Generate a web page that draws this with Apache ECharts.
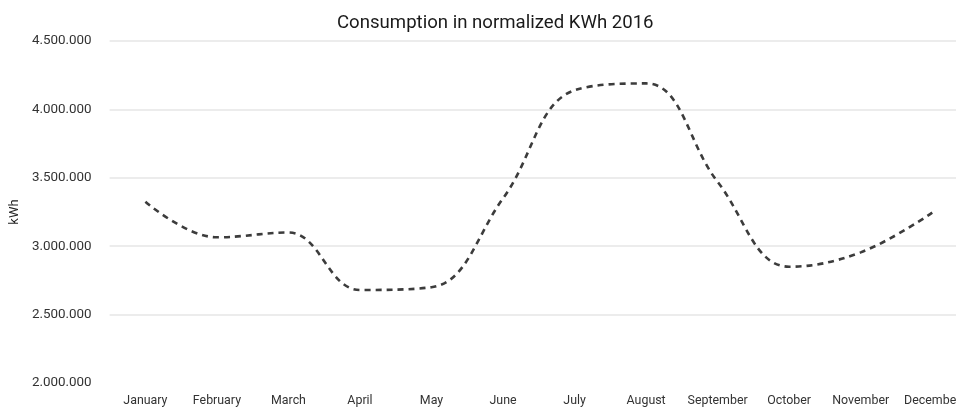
<!DOCTYPE html>
<html>
<head>
<meta charset="utf-8">
<script src="https://cdn.jsdelivr.net/npm/echarts@6/dist/echarts.min.js"></script>
<style>
  html, body { margin: 0; padding: 0; background: #fff; overflow: hidden; }
  /* wider than the window so December gets cut at the right edge */
  #myChart { width: 968px; height: 407px; }
</style>
</head>
<body>
<div id="myChart"></div>
<script>
var months = ['January', 'February', 'March', 'April', 'May', 'June', 'July', 'August', 'September', 'October', 'November', 'December'];
var consumption = [3325000, 3065000, 3100000, 2680000, 2700000, 3350000, 4140000, 4190000, 3470000, 2850000, 2955000, 3245000];
var yTicks = [2000000, 2500000, 3000000, 3500000, 4000000, 4500000];

// 2.000.000 -> dots as thousand separators
var fmt = function (v) {
	return String(v).replace(/\B(?=(\d{3})+(?!\d))/g, '.');
};

var option = {
	animation: false,
	title: {
		text: 'Consumption in normalized KWh 2016',
		left: 332,
		top: 9,
		textStyle: { fontFamily: 'Roboto', fontSize: 18.6, fontWeight: 'normal', color: '#1a1a1a' }
	},
	grid: { left: 105, right: 0, top: 41, bottom: 24 },
	xAxis: {
		type: 'category',
		data: months,
		axisLine: { show: false },
		axisTick: { show: false },
		axisLabel: { interval: 0, margin: 12, fontFamily: 'Roboto', fontSize: 12.4, color: '#333' }
	},
	yAxis: {
		type: 'value',
		min: yTicks[0],
		max: yTicks[yTicks.length - 1],
		interval: 500000,
		name: 'kWh',
		nameLocation: 'middle',
		nameRotate: 90,
		nameGap: 83,
		nameTextStyle: { fontFamily: 'Roboto', fontSize: 13, color: '#222' },
		axisLine: { show: false },
		axisTick: { show: false },
		axisLabel: { margin: 18, fontFamily: 'Roboto', fontSize: 13.4, color: '#333', formatter: fmt },
		splitLine: {
			lineStyle: { color: ['rgba(0,0,0,0)', '#e6e6e6', '#e6e6e6', '#e6e6e6', '#e6e6e6', '#e6e6e6'], width: 1.5 }
		}
	},
	series: [{
		type: 'line',
		data: consumption,
		smooth: 0.4,
		showSymbol: false,
		lineStyle: { color: '#3c3c3c', width: 2.6, type: [6, 5] }
	}]
};

var myChart = echarts.init(document.getElementById('myChart'));
myChart.setOption(option);
</script>
</body>
</html>
